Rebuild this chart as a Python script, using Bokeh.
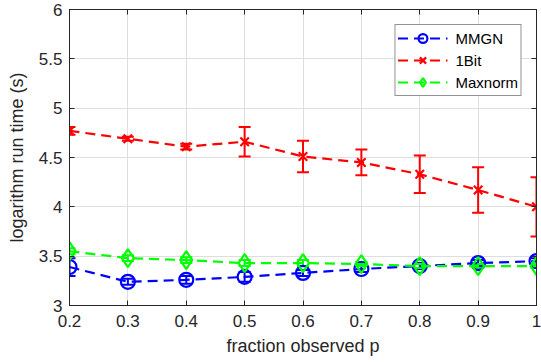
from bokeh.plotting import figure
from bokeh.models import (ColumnDataSource, Whisker, TeeHead, FixedTicker, LinearAxis,
                          Range1d, Legend, LegendItem)
from bokeh.embed import file_html
from bokeh.resources import INLINE

p_vals = [0.2, 0.3, 0.4, 0.5, 0.6, 0.7, 0.8, 0.9, 1.0]
mmgn = [3.39, 3.24, 3.26, 3.29, 3.33, 3.37, 3.40, 3.43, 3.45]
mmgn_err = [0.09, 0.03, 0.04, 0.05, 0.03, 0.03, 0.03, 0.03, 0.03]
onebit = [4.77, 4.69, 4.61, 4.66, 4.51, 4.45, 4.33, 4.17, 4.00]
onebit_err = [0.04, 0.02, 0.03, 0.15, 0.16, 0.13, 0.19, 0.23, 0.30]
maxnorm = [3.55, 3.48, 3.46, 3.43, 3.43, 3.42, 3.40, 3.40, 3.40]
maxnorm_err = [0.03, 0.03, 0.03, 0.03, 0.03, 0.02, 0.02, 0.02, 0.02]

x_ticks = [0.2, 0.3, 0.4, 0.5, 0.6, 0.7, 0.8, 0.9, 1.0]
x_labels = ["0.2", "0.3", "0.4", "0.5", "0.6", "0.7", "0.8", "0.9", "1"]
y_ticks = [3, 3.5, 4, 4.5, 5, 5.5, 6]
y_labels = ["3", "3.5", "4", "4.5", "5", "5.5", "6"]

FONT = "Liberation Sans"
AX = "#262626"

p = figure(width=541, height=364, output_backend="svg", toolbar_location=None,
           x_range=Range1d(0.2, 1.0), y_range=Range1d(3, 6),
           min_border_left=69, min_border_right=5, min_border_top=9, min_border_bottom=59)
p.outline_line_color = AX
p.outline_line_width = 1
p.background_fill_color = "white"
p.border_fill_color = "white"

for ax in (p.xaxis[0], p.yaxis[0]):
    ax.axis_line_color = AX
    ax.major_tick_line_color = AX
    ax.major_tick_in = 5
    ax.major_tick_out = 0
    ax.minor_tick_line_color = None
    ax.major_label_text_font = FONT
    ax.major_label_text_font_size = "17px"
    ax.major_label_text_color = AX
    ax.axis_label_text_font = FONT
    ax.axis_label_text_font_size = "18px"
    ax.axis_label_text_font_style = "normal"
    ax.axis_label_text_color = AX

p.xaxis[0].ticker = FixedTicker(ticks=x_ticks)
p.xaxis[0].major_label_overrides = {t: l for t, l in zip(x_ticks, x_labels)}
p.xaxis[0].axis_label = "fraction observed p"
p.xaxis[0].major_label_standoff = 9
p.xaxis[0].axis_label_standoff = 6
p.yaxis[0].ticker = FixedTicker(ticks=y_ticks)
p.yaxis[0].major_label_overrides = {t: l for t, l in zip(y_ticks, y_labels)}
p.yaxis[0].axis_label = "logarithm run time (s)"
p.yaxis[0].major_label_standoff = 7
p.yaxis[0].axis_label_standoff = 9

for loc, ticks in (("above", x_ticks), ("right", y_ticks)):
    a = LinearAxis(ticker=FixedTicker(ticks=ticks),
                   major_label_overrides={t: "" for t in ticks},
                   major_label_standoff=0,
                   axis_line_color=AX, major_tick_line_color=AX, major_tick_in=5,
                   major_tick_out=0, minor_tick_line_color=None)
    p.add_layout(a, loc)

p.xgrid.ticker = FixedTicker(ticks=x_ticks)
p.ygrid.ticker = FixedTicker(ticks=y_ticks)
p.grid.grid_line_color = "#dedede"
p.grid.grid_line_width = 1

items = []
series = [
    ("MMGN", mmgn, mmgn_err, "#0000ff", "circle", 14),
    ("1Bit", onebit, onebit_err, "#ff0000", "x", 12),
    ("Maxnorm", maxnorm, maxnorm_err, "#00ff00", "diamond", 18),
]
for name, vals, errs, color, marker, size in series:
    src = ColumnDataSource(dict(x=p_vals, y=vals,
                                lo=[v - e for v, e in zip(vals, errs)],
                                hi=[v + e for v, e in zip(vals, errs)]))
    ln = p.line("x", "y", source=src, line_color=color, line_width=2.2, line_dash="10 6")
    w = Whisker(source=src, base="x", upper="hi", lower="lo", line_color=color, line_width=2,
                upper_head=TeeHead(size=12, line_color=color, line_width=2),
                lower_head=TeeHead(size=12, line_color=color, line_width=2))
    p.add_layout(w)
    mk = p.scatter("x", "y", source=src, marker=marker, size=size, line_color=color,
                   fill_color=None, line_width=2.2)
    items.append(LegendItem(label=name, renderers=[ln, mk]))

legend = Legend(items=items, location="top_right")
legend.label_text_font = FONT
legend.label_text_font_size = "15px"
legend.label_text_color = "black"
legend.border_line_color = AX
legend.border_line_width = 1
legend.background_fill_alpha = 1
legend.glyph_width = 50
legend.glyph_height = 22
legend.label_height = 22
legend.spacing = 0
legend.padding = 2
legend.margin = 15
legend.label_standoff = 8
p.add_layout(legend, "center")

open("out.html", "w").write(file_html(p, INLINE))
